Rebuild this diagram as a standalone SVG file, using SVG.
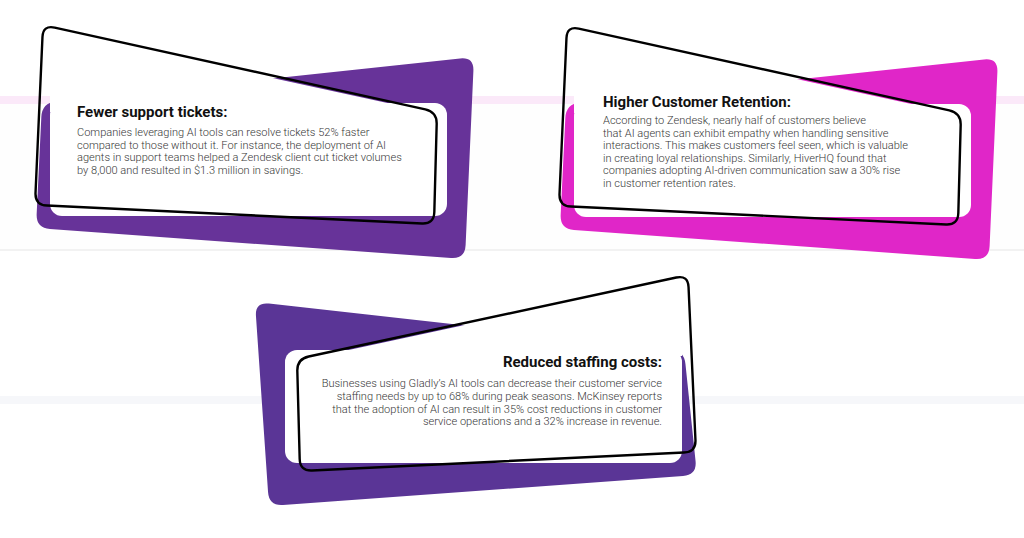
<svg xmlns="http://www.w3.org/2000/svg" width="1024" height="538" viewBox="0 0 1024 538">
<style>
.title{font-family:Roboto,"Liberation Sans",sans-serif;font-weight:700;font-size:15px;fill:#111}
.body{font-family:Roboto,"Liberation Sans",sans-serif;font-weight:300;font-size:11.05px;fill:#383838}
.outline{fill:none;stroke:#000;stroke-width:2.4}
.fillw{fill:#fff}
</style>
<defs>
<path id="outlineA" d="M54.72,27.59 L425.28,109.41 Q437,112 436.68,124 L434.32,212 Q434,224 422.01,223.43 L46.99,205.57 Q35,205 35.53,193.01 L42.47,36.99 Q43,25 54.72,27.59 Z"/>
<path id="blobA" d="M55.92,101.52 L460.08,58.48 Q474,57 473.38,70.99 L465.62,245.01 Q465,259 451.04,257.99 L49.96,229.01 Q36,228 36.67,214.02 L41.33,116.98 Q42,103 55.92,101.52 Z"/>
<polygon id="innerA" points="50,34 56,30.9 400,105.8 400,112 50,112"/>
<rect id="rectA" x="50" y="103" width="397" height="113" rx="12"/>
</defs>
<rect width="1024" height="538" fill="#fff"/>
<g id="background">
<rect x="0" y="104" width="1024" height="146" fill="#fefefe"/>
<rect x="0" y="96" width="1024" height="8" fill="#fbe9f9"/>
<rect x="0" y="249.5" width="1024" height="1" fill="#e6e6e6"/>
<rect x="0" y="396" width="1024" height="8" fill="#f6f7fa"/>
</g>
<g id="card-fewer-tickets">
<use href="#blobA" fill="#673399"/>
<use href="#innerA" class="fillw"/>
<use href="#rectA" class="fillw"/>
<use href="#outlineA" class="outline"/>
<text class="title" x="77" y="117">Fewer support tickets:</text>
<text class="body" x="77" y="136">Companies leveraging AI tools can resolve tickets 52% faster</text>
<text class="body" x="77" y="148.5">compared to those without it. For instance, the deployment of AI</text>
<text class="body" x="77" y="161">agents in support teams helped a Zendesk client cut ticket volumes</text>
<text class="body" x="77" y="173.5">by 8,000 and resulted in $1.3 million in savings.</text>
</g>
<g id="card-retention">
<g transform="translate(524,1)">
<use href="#blobA" fill="#e026c8"/>
<use href="#innerA" class="fillw"/>
<use href="#rectA" class="fillw"/>
<use href="#outlineA" class="outline"/>
</g>
<text class="title" x="603" y="107">Higher Customer Retention:</text>
<text class="body" x="603" y="124">According to Zendesk, nearly half of customers believe</text>
<text class="body" x="603" y="136.6">that AI agents can exhibit empathy when handling sensitive</text>
<text class="body" x="603" y="149.2">interactions. This makes customers feel seen, which is valuable</text>
<text class="body" x="603" y="161.8">in creating loyal relationships. Similarly, HiverHQ found that</text>
<text class="body" x="603" y="174.4">companies adopting AI-driven communication saw a 30% rise</text>
<text class="body" x="603" y="187">in customer retention rates.</text>
</g>
<g id="card-staffing">
<path d="M268.91,303.56 L670.09,348.44 Q684,350 685.45,363.93 L695.55,461.07 Q697,475 683.04,476.01 L282.96,504.99 Q269,506 268.04,492.03 L255.96,315.97 Q255,302 268.91,303.56 Z" fill="#5a3596"/>
<polygon class="fillw" points="330,353.9 674,280 680,280.5 682,284 682,356 330,356"/>
<rect class="fillw" x="285" y="350" width="397" height="113" rx="12"/>
<path class="outline" d="M308.73,356.48 L676.27,277.52 Q688,275 688.54,286.99 L695.46,440.01 Q696,452 684.01,452.57 L311.99,470.43 Q300,471 299.68,459 L297.32,371 Q297,359 308.73,356.48 Z"/>
<text class="title" x="662" y="367" text-anchor="end">Reduced staffing costs:</text>
<text class="body" x="662" y="387.3" text-anchor="end">Businesses using Gladly’s AI tools can decrease their customer service</text>
<text class="body" x="662" y="400" text-anchor="end">staffing needs by up to 68% during peak seasons. McKinsey reports</text>
<text class="body" x="662" y="412.7" text-anchor="end">that the adoption of AI can result in 35% cost reductions in customer</text>
<text class="body" x="662" y="425.4" text-anchor="end">service operations and a 32% increase in revenue.</text>
</g>
<g id="connectors"/>
</svg>
